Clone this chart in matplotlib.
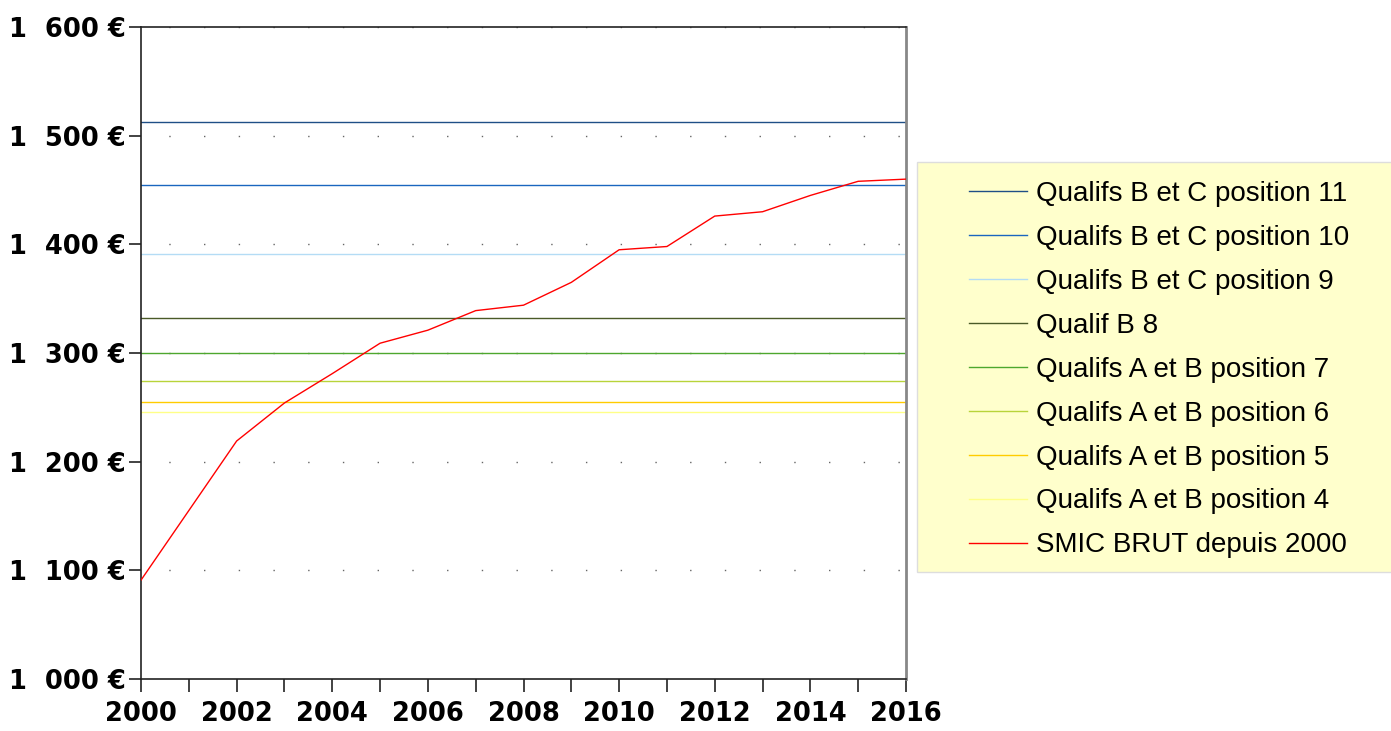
import matplotlib
matplotlib.use("Agg")
import matplotlib.pyplot as plt
from matplotlib.patches import Rectangle
from matplotlib.ticker import FuncFormatter, MultipleLocator

# SMIC brut mensuel depuis 2000
annees = list(range(2000, 2017))
smic = [1091, 1155, 1219, 1254, 1281, 1309, 1321, 1339, 1344, 1365,
        1395, 1398, 1426, 1430, 1445, 1458, 1460]

# Grille des qualifications (niveaux fixes)
qualifs = [
    "Qualifs B et C position 11",
    "Qualifs B et C position 10",
    "Qualifs B et C position 9",
    "Qualif B 8",
    "Qualifs A et B position 7",
    "Qualifs A et B position 6",
    "Qualifs A et B position 5",
    "Qualifs A et B position 4",
]
niveaux = [1513, 1455, 1391, 1332, 1300, 1274, 1255, 1246]
couleurs = ["#1f4f86", "#1a66bf", "#b4dcf5", "#4a5a28",
            "#4ea72e", "#b8d43a", "#ffcc00", "#ffff88"]

fig = plt.figure(figsize=(13.91, 7.31), dpi=100)
ax = fig.add_axes([141 / 1391, 1 - 679 / 731, 765 / 1391, 652 / 731])

# grille en pointillés
for y in range(1100, 1700, 100):
    ax.axhline(y, color="#666666", lw=1.0, ls=(5, (1, 24)), zorder=1)

for nom, val, c in zip(qualifs, niveaux, couleurs):
    ax.plot([annees[0], annees[-1]], [val, val], color=c, lw=1.0, label=nom, zorder=2)

ax.plot(annees, smic, color="#ff0000", lw=1.0, label="SMIC BRUT depuis 2000", zorder=3)

ax.set_xlim(2000, 2016)
ax.set_ylim(1000, 1600)
ax.xaxis.set_major_locator(MultipleLocator(2))
ax.xaxis.set_minor_locator(MultipleLocator(1))
ax.yaxis.set_major_locator(MultipleLocator(100))
ax.yaxis.set_major_formatter(FuncFormatter(lambda v, p: "{}  {:03d} €".format(int(v) // 1000, int(v) % 1000)))

ax.tick_params(axis="both", which="both", direction="out", length=9, width=1.2, color="#222222")
ax.tick_params(axis="x", pad=7)
ax.tick_params(axis="y", pad=2)
for lab in ax.get_xticklabels() + ax.get_yticklabels():
    lab.set_fontsize(18.5)
    lab.set_fontweight("bold")
    lab.set_family("DejaVu Sans")

for s in ["top", "left", "bottom"]:
    ax.spines[s].set_color("#222222")
    ax.spines[s].set_linewidth(1.2)
ax.spines["right"].set_color("#888888")
ax.spines["right"].set_linewidth(2)

# fond de la légende
fig.patches.append(Rectangle((917 / 1391, 1 - 572 / 731), 480 / 1391, 410 / 731,
                             transform=fig.transFigure, facecolor="#ffffcc",
                             edgecolor="#dddddd", lw=1, zorder=-1))
ax.legend(loc="upper left", bbox_to_anchor=(969 / 1391, 1 - 181 / 731),
          bbox_transform=fig.transFigure, frameon=False, borderpad=0,
          borderaxespad=0, handlelength=2.1, handletextpad=0.3,
          labelspacing=0.645, prop={"family": "Liberation Sans", "size": 20})

fig.savefig("out.png", dpi=100)
